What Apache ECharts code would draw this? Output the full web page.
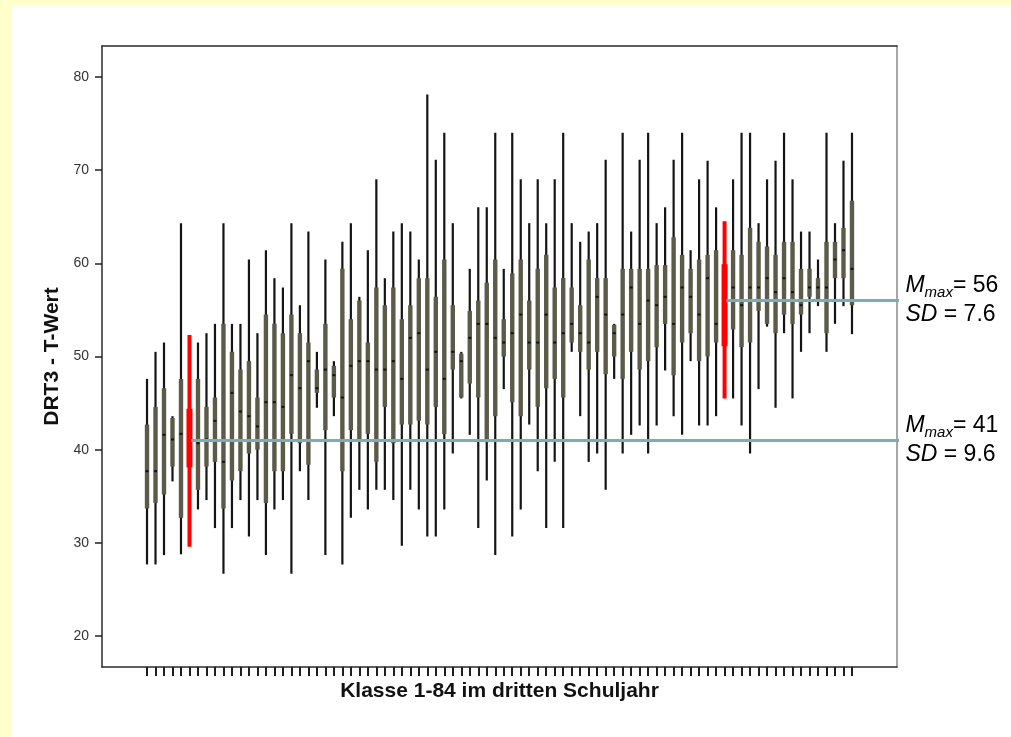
<!DOCTYPE html>
<html><head><meta charset="utf-8">
<script src="https://cdn.jsdelivr.net/npm/echarts@6/dist/echarts.min.js"></script>
<style>
html,body{margin:0;padding:0;background:#ffffcc;width:1011px;height:737px;overflow:hidden}
#panel{position:absolute;left:12px;top:5px;width:999px;height:732px;background:#ffffff}
#chart{position:absolute;left:0;top:0;width:1011px;height:737px}
</style></head><body>
<div id="panel"></div><div id="chart"></div>
<script>
// Klassen 1-84
const classes = [1,2,3,4,5,6,7,8,9,10,11,12,13,14,15,16,17,18,19,20,21,22,23,24,25,26,27,28,29,30,31,32,33,34,35,36,37,38,39,40,41,42,43,44,45,46,47,48,49,50,51,52,53,54,55,56,57,58,59,60,61,62,63,64,65,66,67,68,69,70,71,72,73,74,75,76,77,78,79,80,81,82,83,84];
const mins = [27.7,27.7,28.7,36.6,28.8,29.6,33.6,34.6,31.6,26.7,31.6,34.6,30.7,34.6,28.7,33.6,34.6,26.7,37.7,34.6,44.5,28.7,43.6,27.7,32.7,35.7,33.6,35.7,
  35.7,34.6,29.7,35.7,33.6,30.7,30.7,33.6,39.6,45.5,41.6,31.6,36.7,28.7,46.5,30.7,33.6,42.7,37.7,31.6,38.7,31.6,50.5,43.6,38.7,39.6,35.7,47.6,
  39.6,41.6,42.6,39.6,42.6,48.5,43.6,41.6,49.5,42.6,42.6,43.6,45.5,45.5,42.6,39.6,46.5,53.2,44.5,52.5,45.5,50.5,52.5,55.4,50.5,53.5,55.4,52.4];
const q1s = [33.7,34.3,35.2,38.2,32.7,38.1,35.7,38.2,38.7,33.7,36.7,37.7,39.6,40.0,34.3,37.7,37.7,41.7,40.7,38.4,46.1,42.1,45.6,37.7,42.1,41.1,41.7,38.7,
  44.6,40.7,42.7,42.7,43.1,42.7,44.6,41.7,48.6,45.6,47.1,45.6,40.8,43.6,50.0,45.1,43.6,48.6,44.6,46.6,47.6,45.6,51.5,50.5,48.6,50.5,48.1,50.0,
  47.6,50.5,48.6,49.5,51.0,53.5,48.0,51.5,52.5,49.5,50.0,51.5,51.1,52.9,51.0,51.5,54.9,53.5,52.5,54.5,53.5,54.5,56.4,56.0,52.5,58.4,58.4,55.5];
const medians = [37.7,37.7,41.6,41.1,41.7,41.0,40.7,41.1,43.1,38.7,46.1,44.1,43.6,42.5,45.1,45.1,44.6,48.0,46.6,49.5,46.6,48.6,48.0,45.6,49.0,49.5,49.5,48.6,
  48.6,49.5,47.6,52.0,52.5,48.6,50.5,47.6,50.5,49.5,52.0,53.5,53.5,52.0,51.5,52.5,54.5,51.5,51.5,54.5,51.5,52.5,53.5,52.5,51.5,56.4,54.5,52.5,
  54.5,57.4,53.5,56.0,55.5,56.4,53.5,57.4,56.4,54.5,58.4,53.5,56.0,57.4,55.5,57.4,57.4,58.4,56.9,58.4,56.9,55.5,57.4,57.4,57.4,60.4,61.4,59.4];
const q3s = [42.7,44.6,46.6,43.4,47.6,44.4,47.6,44.6,45.6,53.5,50.5,48.6,49.5,45.6,54.5,53.5,52.5,54.5,52.5,51.5,48.6,53.5,49.0,59.4,54.0,56.0,51.5,57.4,
  55.5,57.4,54.0,55.5,58.4,58.4,56.4,60.4,55.5,50.3,54.9,56.0,57.9,60.4,54.0,58.9,60.4,56.0,59.4,60.9,57.4,58.4,57.4,55.5,60.4,58.4,58.4,53.4,
  59.4,59.4,59.4,59.4,59.8,59.8,62.8,60.9,59.4,60.4,60.9,61.4,59.9,61.4,60.9,63.8,62.3,61.8,60.9,62.3,62.3,59.4,59.4,58.4,62.3,62.3,63.8,66.7];
const maxs = [47.6,50.5,51.5,43.6,64.3,52.3,51.5,52.5,53.5,64.3,53.5,53.5,60.4,52.5,61.4,58.4,57.4,64.3,55.5,63.4,50.5,60.4,49.5,62.3,64.3,56.4,61.4,69.0,
  58.4,63.4,64.3,63.4,60.4,78.1,71.1,74.0,64.3,50.5,59.4,66.0,66.0,74.0,59.4,74.0,69.0,64.3,69.0,64.3,69.0,74.0,64.3,62.3,63.4,64.3,71.1,53.5,
  74.0,63.4,71.1,74.0,64.3,66.0,71.1,74.0,61.4,69.0,71.0,66.0,64.5,69.0,74.0,74.0,64.3,69.0,71.0,74.0,69.0,63.4,63.4,60.4,74.0,64.3,71.0,74.0];
// hervorgehobene Klassen (rot) mit Kennwerten
const highlight = [6, 69];
const refClass = [6, 69];
const refMean = [41, 56];
const refSD = [9.6, 7.6];
const yTicks = [20, 30, 40, 50, 60, 70, 80];
const xTitle = 'Klasse 1-84 im dritten Schuljahr';
const yTitle = 'DRT3 - T-Wert';

const FONT = '"Liberation Sans", Arial, Helvetica, sans-serif';
const X_MIN = -4.3, X_MAX = 89.3, Y_MIN = 16.7, Y_MAX = 83.3;
const REF_START_OFFSET = 0.2, REF_END = 90;

const boxData = classes.map((c, k) => [c, mins[k], q1s[k], medians[k], q3s[k], maxs[k]]);

function renderBox(params, api) {
  const c = api.value(0);
  const lo = api.coord([c, api.value(1)]);
  const q1 = api.coord([c, api.value(2)]);
  const md = api.coord([c, api.value(3)]);
  const q3 = api.coord([c, api.value(4)]);
  const hi = api.coord([c, api.value(5)]);
  const x = lo[0];
  const red = highlight.indexOf(c) >= 0;
  const ww = red ? 4 : 2.2, bw = red ? 6 : 4.4;
  const wc = red ? '#ff0000' : '#141414';
  const bc = red ? '#ff0000' : '#5c5b49';
  const children = [
    {type: 'rect', shape: {x: x - ww / 2, y: hi[1], width: ww, height: lo[1] - hi[1]}, style: {fill: wc}},
    {type: 'rect', shape: {x: x - bw / 2, y: q3[1], width: bw, height: Math.max(q1[1] - q3[1], 1)}, style: {fill: bc}}
  ];
  if (!red) {
    children.push({type: 'rect', shape: {x: x - 1.5, y: md[1] - 1, width: 3, height: 2}, style: {fill: '#111111'}});
  }
  return {type: 'group', children: children};
}

const rich = {
  mi: {fontFamily: FONT, fontStyle: 'italic', fontSize: 23, lineHeight: 29, color: '#000'},
  sub: {fontFamily: FONT, fontStyle: 'italic', fontSize: 15, lineHeight: 14, verticalAlign: 'bottom', color: '#000'},
  n: {fontFamily: FONT, fontSize: 23, lineHeight: 29, color: '#000'}
};

const refSeries = refClass.map((c, k) => ({
  type: 'line', clip: false, silent: true, animation: false, z: 5,
  symbol: 'circle', symbolSize: 1, itemStyle: {color: 'rgba(0,0,0,0)'},
  lineStyle: {color: '#7badb7', width: 3},
  data: [
    [c + REF_START_OFFSET, refMean[k]],
    {value: [REF_END, refMean[k]], label: {
      show: true, position: 'right', distance: 2,
      formatter: '{mi|M}{sub|max}{n|= ' + refMean[k] + '}\n{mi|SD}{n| = ' + refSD[k] + '}',
      rich: rich
    }}
  ]
}));

const axisLineDark = {show: true, onZero: false, lineStyle: {color: '#2a2a2a', width: 1.5}};

const chart = echarts.init(document.getElementById('chart'), null, {renderer: 'canvas'});
chart.setOption({
  animation: false,
  backgroundColor: 'transparent',
  grid: {left: 102, top: 46, right: 114, bottom: 70, containLabel: false, outerBoundsMode: 'none'},
  xAxis: [
    {type: 'value', min: X_MIN, max: X_MAX, position: 'bottom',
     axisLine: axisLineDark,
     axisTick: {show: true, customValues: classes, length: 9, lineStyle: {color: '#1e1e1e', width: 2}},
     axisLabel: {show: false}, splitLine: {show: false},
     name: xTitle, nameLocation: 'middle', nameGap: 14,
     nameTextStyle: {fontFamily: FONT, fontSize: 21, fontWeight: 'bold', color: '#111'}},
    {type: 'value', min: X_MIN, max: X_MAX, position: 'top',
     axisLine: axisLineDark, axisTick: {show: false}, axisLabel: {show: false}, splitLine: {show: false}}
  ],
  yAxis: [
    {type: 'value', min: Y_MIN, max: Y_MAX, position: 'left',
     axisLine: axisLineDark,
     axisTick: {show: true, customValues: yTicks, length: 7, lineStyle: {color: '#222', width: 1.5}},
     axisLabel: {customValues: yTicks, fontFamily: FONT, fontSize: 14, color: '#333', margin: 13},
     splitLine: {show: false},
     name: yTitle, nameLocation: 'middle', nameGap: 37,
     nameTextStyle: {fontFamily: FONT, fontSize: 21, fontWeight: 'bold', color: '#111'}},
    {type: 'value', min: Y_MIN, max: Y_MAX, position: 'right',
     axisLine: {show: true, onZero: false, lineStyle: {color: '#8a8a8a', width: 1.5}},
     axisTick: {show: false}, axisLabel: {show: false}, splitLine: {show: false}}
  ],
  series: [
    {type: 'custom', renderItem: renderBox, data: boxData, encode: {x: 0, y: [1, 2, 3, 4, 5]}, silent: true, z: 2}
  ].concat(refSeries)
});
</script>
</body></html>
